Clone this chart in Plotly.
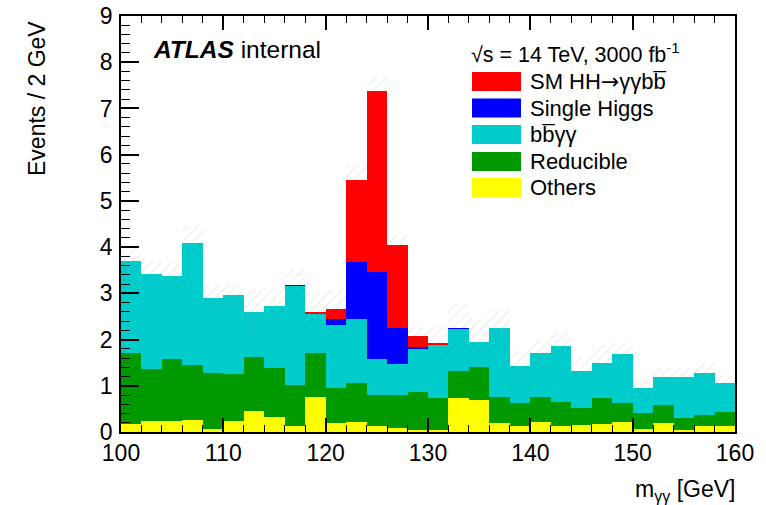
import plotly.graph_objects as go
import numpy as np

# ---------------- data ----------------
bin_edges = list(range(100, 162, 2))
others = [0.18, 0.23, 0.24, 0.26, 0.06, 0.24, 0.45, 0.33, 0.14, 0.76,
          0.19, 0.21, 0.12, 0.09, 0.05, 0.05, 0.73, 0.70, 0.19, 0.13,
          0.22, 0.12, 0.16, 0.18, 0.22, 0.07, 0.19, 0.04, 0.12, 0.12]
reducible = [1.54, 1.14, 1.34, 1.18, 1.22, 1.01, 1.17, 1.06, 0.87, 0.95,
             0.77, 0.85, 0.69, 0.70, 0.82, 0.68, 0.59, 0.70, 0.56, 0.50,
             0.54, 0.53, 0.37, 0.55, 0.40, 0.35, 0.39, 0.27, 0.25, 0.31]
bbyy = [1.98, 2.04, 1.80, 2.65, 1.62, 1.71, 0.98, 1.34, 2.16, 0.85,
        1.36, 1.39, 0.77, 0.68, 0.93, 1.16, 0.91, 0.54, 1.50, 0.80,
        0.94, 1.21, 0.78, 0.77, 1.06, 0.53, 0.61, 0.88, 0.91, 0.62]
single_higgs = [0.0, 0.0, 0.0, 0.0, 0.0, 0.0, 0.0, 0.0, 0.01, 0.01,
                0.13, 1.22, 1.89, 0.77, 0.03, 0.01, 0.01, 0.0, 0.0, 0.0,
                0.0, 0.0, 0.0, 0.0, 0.0, 0.0, 0.0, 0.0, 0.0, 0.0]
sm_hh = [0.0, 0.0, 0.0, 0.0, 0.0, 0.0, 0.0, 0.0, 0.0, 0.01,
         0.22, 1.78, 3.91, 1.80, 0.24, 0.01, 0.0, 0.0, 0.0, 0.0,
         0.0, 0.0, 0.0, 0.0, 0.0, 0.0, 0.0, 0.0, 0.0, 0.0]
uncert = [0.31, 0.28, 0.30, 0.36, 0.27, 0.25, 0.45, 0.38, 0.34, 0.45,
          0.40, 0.34, 0.29, 0.22, 0.21, 0.37, 0.52, 0.50, 0.40, 0.32,
          0.29, 0.31, 0.32, 0.39, 0.24, 0.18, 0.20, 0.20, 0.22, 0.18]

components = [
    ("Others", others, "#ffff00"),
    ("Reducible", reducible, "#009900"),
    ("bb\u0305γγ", bbyy, "#00cccc"),
    ("Single Higgs", single_higgs, "#0000ff"),
    ("SM HH→γγbb\u0305", sm_hh, "#ff0000"),
]
legend_labels = ["SM HH<span style='font-family:DejaVu Sans'>→</span>γγbb\u0305",
                 "Single Higgs", "bb\u0305γγ", "Reducible", "Others"]
legend_colors = ["#ff0000", "#0000ff", "#00cccc", "#009900", "#ffff00"]

# ---------------- figure ----------------
W, H = 766, 505
L, R, T, B = 121, 31, 16, 73
centers = [(a + b) / 2 for a, b in zip(bin_edges[:-1], bin_edges[1:])]
widths = [b - a for a, b in zip(bin_edges[:-1], bin_edges[1:])]

fig = go.Figure()
base = np.zeros(len(centers))
for name, vals, col in components:
    v = np.array(vals)
    fig.add_trace(go.Bar(x=centers, y=v, base=base.copy(), width=widths,
                         marker=dict(color=col, line=dict(width=0)),
                         name=name, showlegend=False, hoverinfo="skip"))
    base = base + v
total = base
err = np.array(uncert)
fig.add_trace(go.Bar(x=centers, y=2 * err, base=total - err, width=widths,
                     marker=dict(color="rgba(0,0,0,0)", line=dict(width=0),
                                 pattern=dict(shape="/", fgcolor="rgba(110,110,110,0.5)",
                                              bgcolor="rgba(0,0,0,0)", size=7, solidity=0.12)),
                     showlegend=False, hoverinfo="skip"))

font = "Liberation Sans, Arial, Helvetica, sans-serif"
fig.update_layout(
    width=W, height=H, barmode="overlay", bargap=0, autosize=False,
    margin=dict(l=L, r=R, t=T, b=B, autoexpand=False),
    plot_bgcolor="white", paper_bgcolor="white",
    font=dict(family=font, color="black"), showlegend=False,
)
fig.update_xaxes(range=[100, 160], dtick=10, tick0=100, ticks="inside", ticklen=14,
                 tickwidth=1.5, tickcolor="black", showgrid=False, zeroline=False,
                 showline=True, linecolor="black", linewidth=1.5, mirror="ticks",
                 automargin=False,
                 tickfont=dict(size=23, family=font),
                 minor=dict(dtick=2, ticks="inside", ticklen=7, tickwidth=1.2, tickcolor="black", showgrid=False))
fig.update_yaxes(range=[0, 9], dtick=1, tick0=0, ticks="inside", ticklen=18,
                 tickwidth=1.5, tickcolor="black", showgrid=False, zeroline=False,
                 showline=True, linecolor="black", linewidth=1.5, mirror=True,
                 automargin=False,
                 tickfont=dict(size=23, family=font), ticklabelstandoff=2,
                 minor=dict(dtick=0.2, ticks="inside", ticklen=9, tickwidth=1.2, tickcolor="black", showgrid=False))

pw, ph = W - L - R, H - T - B
def px(xp):
    return (xp - L) / pw
def py(yp):
    return (H - B - yp) / ph

ann = []
ann.append(dict(x=px(37), y=py(99), xref="paper", yref="paper", text="Events / 2 GeV",
                textangle=-90, showarrow=False, font=dict(size=23, family=font),
                xanchor="center", yanchor="middle"))
ann.append(dict(x=px(737), y=py(490), xref="paper", yref="paper",
                text="m<sub>γγ</sub> [GeV]", showarrow=False,
                font=dict(size=23, family=font), xanchor="right", yanchor="middle"))
ann.append(dict(x=px(151), y=py(49), xref="paper", yref="paper",
                text="<b><i>ATLAS</i></b> internal", showarrow=False,
                font=dict(size=24.5, family=font), xanchor="left", yanchor="middle"))
ann.append(dict(x=px(469), y=py(53), xref="paper", yref="paper",
                text="√s = 14 TeV, 3000 fb<sup>-1</sup>", showarrow=False,
                font=dict(size=21.5, family=font), xanchor="left", yanchor="middle"))
row_y = [81.5, 108, 134.5, 161.5, 187.5]
shapes = []
for lab, col, yy in zip(legend_labels, legend_colors, row_y):
    shapes.append(dict(type="rect", xref="paper", yref="paper",
                       x0=px(472), x1=px(521), y0=py(yy - 9.5), y1=py(yy + 9.5),
                       fillcolor=col, line=dict(width=0)))
    ann.append(dict(x=px(528), y=py(yy), xref="paper", yref="paper", text=lab,
                    showarrow=False, font=dict(size=22, family=font),
                    xanchor="left", yanchor="middle"))
fig.update_layout(annotations=ann, shapes=shapes)

fig.write_html("out.html")
